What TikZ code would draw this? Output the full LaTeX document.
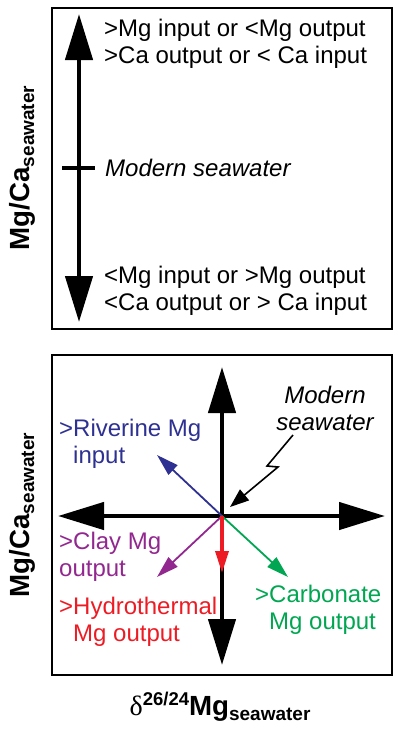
\documentclass[tikz,border=0pt]{standalone}
\usepackage{fontspec}
\setmainfont{Liberation Sans}
\newfontfamily\grkfont{Liberation Serif}
\usetikzlibrary{arrows.meta}
\definecolor{riverblue}{HTML}{2E3192}
\definecolor{claypurple}{HTML}{92278F}
\definecolor{hydrored}{HTML}{ED1C24}
\definecolor{carbgreen}{HTML}{00A651}
\newcommand{\txt}{\fontsize{24}{27}\selectfont}
\newcommand{\sw}{\raisebox{-5pt}{\fontsize{19}{19}\selectfont seawater}}

\begin{document}
\begin{tikzpicture}[x=1pt,y=-1pt,
  panel/.style={draw=black, line width=2pt},
  bigarrow/.style={line width=4.5pt, {Triangle[length=46pt,width=27pt]}-{Triangle[length=46pt,width=27pt]}},
  fluxarrow/.style={line width=1.8pt, -{Triangle[length=22pt,width=13pt]}},
  lbl/.style={inner sep=0pt, align=left, anchor=west, font=\txt},
  axislbl/.style={inner sep=0pt, font=\bfseries\fontsize{27.7}{30}\selectfont}]
\useasboundingbox (0,0) rectangle (400,729);
\draw[panel] (52,8) rectangle (392,329);
\coordinate (ttop) at (79,14);
\coordinate (tbot) at (79,322);
\coordinate (tickl) at (62,168);
\coordinate (tickr) at (95,168);
\draw[bigarrow] (tbot) -- (ttop);
\draw[line width=4pt] (tickl) -- (tickr);
\node[lbl] (high) at (104,44) {>Mg input or <Mg output\\>Ca output or < Ca input};
\node[lbl, font=\txt\itshape] (modtop) at (105,168) {Modern seawater};
\node[lbl] (low) at (104,291) {<Mg input or >Mg output\\<Ca output or > Ca input};
\node[axislbl, rotate=90] (ylabtop) at (22,168) {Mg/Ca\sw};
\draw[panel] (52,355) rectangle (392,675);
\coordinate (c) at (222,516);
\coordinate (hl) at (58,516);
\coordinate (hr) at (385,516);
\coordinate (vt) at (222,367);
\coordinate (vb) at (222,665);
\draw[bigarrow] (hl) -- (hr);
\draw[bigarrow] (vb) -- (vt);
\coordinate (riv) at (157,455);
\coordinate (clay) at (157,577);
\coordinate (hyd) at (222,573);
\coordinate (carb) at (288,577);
\draw[fluxarrow, riverblue] (c) -- (riv);
\draw[fluxarrow, claypurple] (c) -- (clay);
\draw[fluxarrow, carbgreen] (c) -- (carb);
\draw[fluxarrow, hydrored, line width=3.5pt] (c) -- (hyd);
\coordinate (bolt) at (293,435);
\coordinate (k1) at (267,466);
\coordinate (k2) at (278,467);
\coordinate (bolttip) at (230,507);
\draw[line width=1.6pt, -{Triangle[length=19pt,width=14pt]}] (bolt) -- (k1) -- (k2) -- (bolttip);
\node[inner sep=0pt, align=center, font=\txt\itshape] (modbot) at (325,408) {Modern\\seawater};
\node[lbl, text=riverblue] (rivtxt) at (59,444) {>Riverine Mg\\\phantom{>}input};
\node[lbl, text=claypurple] (claytxt) at (59,557) {>Clay Mg\\output};
\node[lbl, text=hydrored] (hydtxt) at (59,622) {>Hydrothermal\\\phantom{>}Mg output};
\node[lbl, text=carbgreen] (carbtxt) at (255,610) {>Carbonate\\\phantom{>}Mg output};
\node[axislbl, rotate=90] (ylabbot) at (22,515) {Mg/Ca\sw};
\node[inner sep=0pt, font=\bfseries] (xlab) at (220,707) {{\grkfont\mdseries\fontsize{28}{30}\selectfont δ}\raisebox{10pt}{\fontsize{18.5}{18}\selectfont 26/24}{\fontsize{27.7}{30}\selectfont Mg}\raisebox{-5pt}{\fontsize{19}{19}\selectfont seawater}};
\end{tikzpicture}
\end{document}
